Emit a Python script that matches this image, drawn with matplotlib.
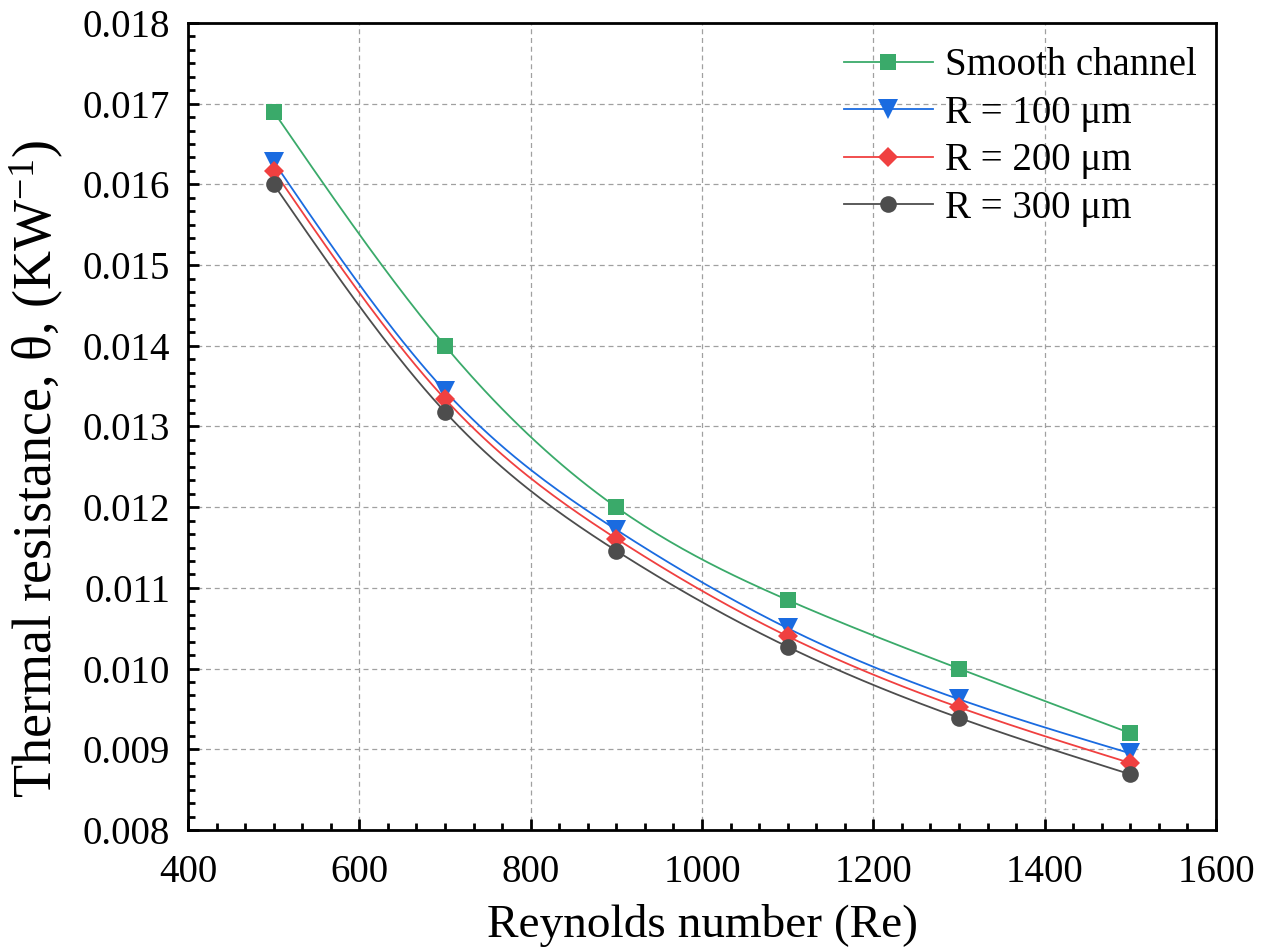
import numpy as np
import matplotlib
matplotlib.use("Agg")
import matplotlib.pyplot as plt
from matplotlib.ticker import AutoMinorLocator, FormatStrFormatter, MultipleLocator

plt.rcParams['font.family'] = ['Liberation Serif', 'DejaVu Serif']
plt.rcParams['mathtext.fontset'] = 'custom'
plt.rcParams['mathtext.rm'] = 'Liberation Serif'
plt.rcParams['mathtext.it'] = 'Liberation Serif:italic'

reynolds = [500, 700, 900, 1100, 1300, 1500]
smooth = [0.01690, 0.01400, 0.01200, 0.01085, 0.01000, 0.00920]
r100 = [0.01628, 0.01344, 0.01172, 0.01050, 0.00962, 0.00895]
r200 = [0.01617, 0.01334, 0.01161, 0.01040, 0.00952, 0.00883]
r300 = [0.01600, 0.01318, 0.01146, 0.01027, 0.00939, 0.00869]
labels = ['Smooth channel', 'R = 100 μm', 'R = 200 μm', 'R = 300 μm']


def natural_spline(x, y, n=200):
    x = np.asarray(x, float)
    y = np.asarray(y, float)
    k = len(x)
    h = np.diff(x)
    A = np.zeros((k, k))
    b = np.zeros(k)
    A[0, 0] = 1
    A[-1, -1] = 1
    for i in range(1, k - 1):
        A[i, i - 1] = h[i - 1]
        A[i, i] = 2 * (h[i - 1] + h[i])
        A[i, i + 1] = h[i]
        b[i] = 6 * ((y[i + 1] - y[i]) / h[i] - (y[i] - y[i - 1]) / h[i - 1])
    M = np.linalg.solve(A, b)
    xs = np.linspace(x[0], x[-1], n)
    idx = np.clip(np.searchsorted(x, xs) - 1, 0, k - 2)
    x0, x1 = x[idx], x[idx + 1]
    hh = x1 - x0
    t0 = x1 - xs
    t1 = xs - x0
    ys = (M[idx] * t0 ** 3 / (6 * hh) + M[idx + 1] * t1 ** 3 / (6 * hh)
          + (y[idx] / hh - M[idx] * hh / 6) * t0
          + (y[idx + 1] / hh - M[idx + 1] * hh / 6) * t1)
    return xs, ys


fig = plt.figure(figsize=(12.75, 9.49), dpi=100)
ax = fig.add_axes([0.1475, 0.1254, 0.8062, 0.8504])

series = [smooth, r100, r200, r300]
colors = ['#3aaa6a', '#1a6be0', '#f04040', '#4d4d4d']
markers = ['s', 'v', 'D', 'o']
msizes = [11, 14, 10, 12]

for data, c, m, ms, lab in zip(series, colors, markers, msizes, labels):
    xs, ys = natural_spline(reynolds, data)
    ax.plot(xs, ys, color=c, lw=1.3, zorder=2)
    ax.plot(reynolds, data, linestyle='none', marker=m, color=c, ms=ms,
            markeredgewidth=0, zorder=3)
    ax.plot([], [], color=c, lw=1.3, marker=m, ms=ms,
            markeredgewidth=0, label=lab)

ax.set_xlim(400, 1600)
ax.set_ylim(0.008, 0.018)
ax.xaxis.set_major_locator(MultipleLocator(200))
ax.yaxis.set_major_locator(MultipleLocator(0.001))
ax.xaxis.set_minor_locator(AutoMinorLocator(6))
ax.yaxis.set_minor_locator(AutoMinorLocator(6))
ax.yaxis.set_major_formatter(FormatStrFormatter('%.3f'))

ax.grid(True, which='major', linestyle=(0, (4, 3)), color='#a0a0a0', lw=0.9)
ax.set_axisbelow(True)

ax.tick_params(which='both', direction='in', top=False, right=False,
               labelsize=28, width=2)
ax.tick_params(which='major', length=8)
ax.tick_params(axis='x', which='major', pad=17)
ax.tick_params(axis='y', which='major', pad=13)
ax.tick_params(which='minor', length=5)
for s in ax.spines.values():
    s.set_linewidth(2)

ax.set_xlabel('Reynolds number (Re)', fontsize=34, labelpad=10)
ax.set_ylabel(r'Thermal resistance, θ, (KW$^{\mathregular{-1}}$)', fontsize=39)
ax.yaxis.set_label_coords(-0.119, 0.447)

leg = ax.legend(loc='upper right', frameon=False, fontsize=28, handlelength=2.3,
                handletextpad=0.3, labelspacing=0.27, borderaxespad=0.1,
                bbox_to_anchor=(1.0, 0.994))

fig.savefig('out.png', dpi=100)
